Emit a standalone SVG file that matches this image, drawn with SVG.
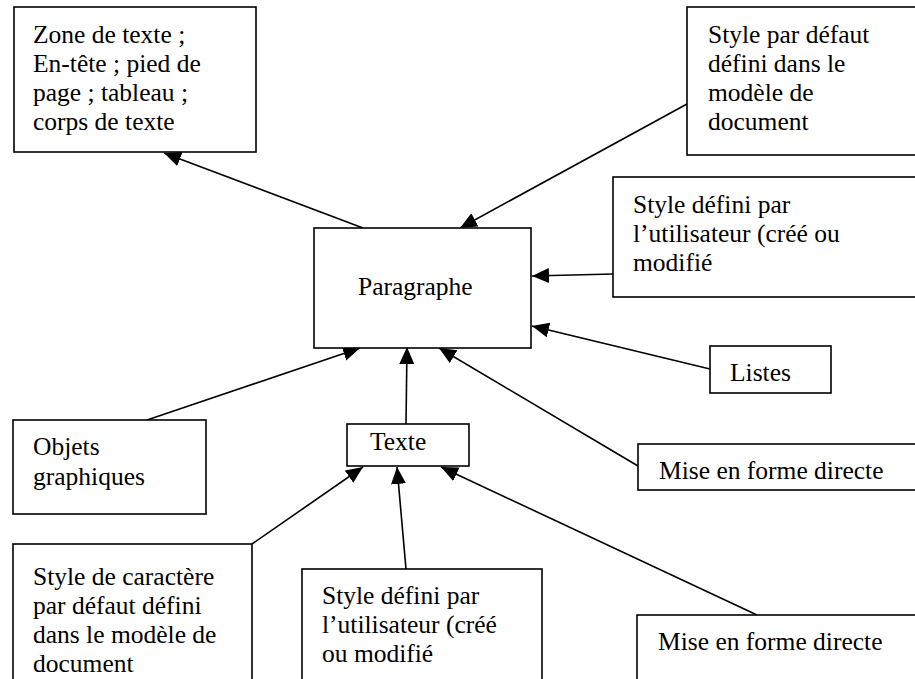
<svg xmlns="http://www.w3.org/2000/svg" width="915" height="679" viewBox="0 0 915 679">
<style>
.box{fill:#fff;stroke:#000;stroke-width:1.6}
.c{stroke:#000;stroke-width:1.6;fill:none;marker-end:url(#ah)}
</style>
<defs>
<marker id="ah" markerUnits="userSpaceOnUse" markerWidth="19" markerHeight="16" refX="17" refY="7.5" orient="auto">
<path d="M0,0 L17,7.5 L0,15 z" fill="#000"/>
</marker>
</defs>
<rect width="915" height="679" fill="#fff"/>
<g id="connectors">
<line class="c" x1="363" y1="228" x2="164" y2="153"/>
<line class="c" x1="687" y1="104" x2="460" y2="228"/>
<line class="c" x1="613" y1="274" x2="532" y2="276"/>
<line class="c" x1="710" y1="369" x2="532" y2="326"/>
<line class="c" x1="638" y1="466" x2="439" y2="348"/>
<line class="c" x1="147" y1="420" x2="360" y2="348"/>
<line class="c" x1="406" y1="424" x2="407" y2="347"/>
<line class="c" x1="252" y1="544" x2="363" y2="467"/>
<line class="c" x1="406" y1="569" x2="397" y2="467"/>
<line class="c" x1="757" y1="615" x2="441" y2="467"/>
</g>
<g font-family="Liberation Serif, Times New Roman, serif" font-size="25.5" fill="#000">
<g id="zone">
<rect class="box" x="14" y="7" width="242" height="145"/>
<text x="33" y="43">Zone de texte ;</text>
<text x="33" y="72">En-tête ; pied de</text>
<text x="33" y="101">page ; tableau ;</text>
<text x="33" y="130">corps de texte</text>
</g>
<g id="style-defaut">
<rect class="box" x="687" y="7" width="240" height="148"/>
<text x="708" y="43">Style par défaut</text>
<text x="708" y="72">défini dans le</text>
<text x="708" y="101">modèle de</text>
<text x="708" y="130">document</text>
</g>
<g id="style-utilisateur">
<rect class="box" x="613" y="177" width="314" height="120"/>
<text x="633" y="213">Style défini par</text>
<text x="633" y="242">l’utilisateur (créé ou</text>
<text x="633" y="271">modifié</text>
</g>
<g id="paragraphe">
<rect class="box" x="314" y="228" width="217" height="120"/>
<text x="358" y="295">Paragraphe</text>
</g>
<g id="listes">
<rect class="box" x="710" y="346" width="121" height="47"/>
<text x="730" y="381">Listes</text>
</g>
<g id="objets">
<rect class="box" x="13" y="420" width="193" height="94"/>
<text x="33" y="455">Objets</text>
<text x="33" y="485">graphiques</text>
</g>
<g id="texte">
<rect class="box" x="347" y="424" width="122" height="42"/>
<text x="370" y="450">Texte</text>
</g>
<g id="mise-forme-1">
<rect class="box" x="638" y="444" width="290" height="46"/>
<text x="659" y="479">Mise en forme directe</text>
</g>
<g id="style-caractere">
<rect class="box" x="13" y="544" width="239" height="150"/>
<text x="33" y="585">Style de caractère</text>
<text x="33" y="614">par défaut défini</text>
<text x="33" y="643">dans le modèle de</text>
<text x="33" y="672">document</text>
</g>
<g id="style-utilisateur-2">
<rect class="box" x="302" y="569" width="240" height="130"/>
<text x="322" y="604">Style défini par</text>
<text x="322" y="633">l’utilisateur (créé</text>
<text x="322" y="662">ou modifié</text>
</g>
<g id="mise-forme-2">
<rect class="box" x="637" y="615" width="290" height="90"/>
<text x="658" y="650">Mise en forme directe</text>
</g>
</g>
</svg>
